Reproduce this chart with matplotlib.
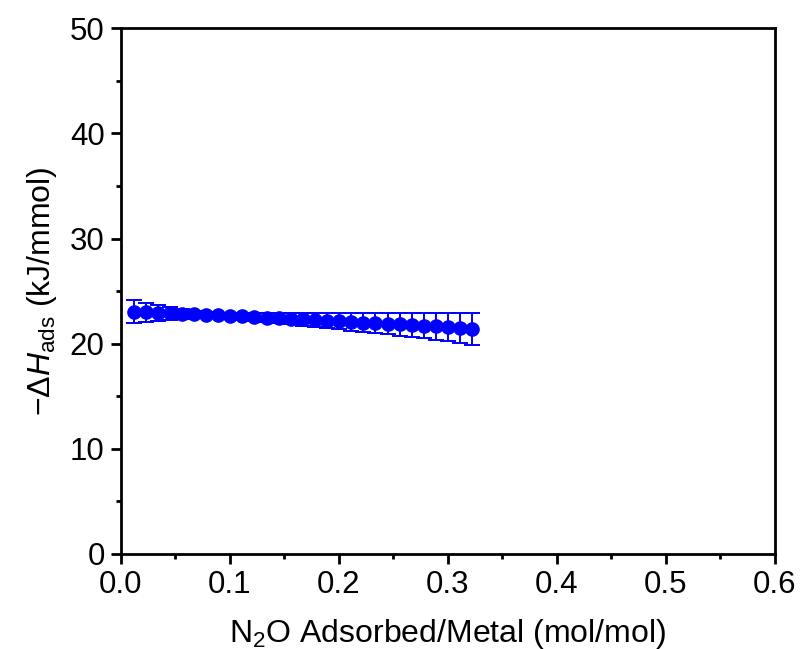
import numpy as np
import matplotlib

matplotlib.use('Agg')
from matplotlib import pyplot as plt
from matplotlib.ticker import MultipleLocator

plt.rcParams['font.family'] = ['Liberation Sans', 'DejaVu Sans']
plt.rcParams['mathtext.fontset'] = 'custom'
plt.rcParams['mathtext.rm'] = 'Liberation Sans'
plt.rcParams['mathtext.it'] = 'Liberation Sans:italic'
plt.rcParams['mathtext.bf'] = 'Liberation Sans:bold'

# N2O adsorbed per metal (mol/mol)
coverage = [0.012, 0.023, 0.034, 0.045, 0.056, 0.067, 0.078, 0.089, 0.100, 0.111,
            0.122, 0.134, 0.145, 0.156, 0.167, 0.178, 0.189, 0.200, 0.211, 0.222,
            0.233, 0.245, 0.256, 0.267, 0.278, 0.289, 0.300, 0.311, 0.322]
# -dH_ads (kJ/mmol)
dh_ads = [23.04, 22.98, 22.93, 22.88, 22.84, 22.80, 22.76, 22.71, 22.66, 22.60,
          22.54, 22.48, 22.42, 22.37, 22.31, 22.25, 22.19, 22.13, 22.07, 22.01,
          21.95, 21.89, 21.83, 21.77, 21.71, 21.64, 21.57, 21.50, 21.43]
dh_err = [1.07, 0.93, 0.78, 0.63, 0.48, 0.34, 0.22, 0.19, 0.24, 0.30,
          0.36, 0.42, 0.48, 0.53, 0.59, 0.65, 0.71, 0.77, 0.83, 0.89,
          0.95, 1.01, 1.07, 1.13, 1.19, 1.26, 1.33, 1.42, 1.52]

fig = plt.figure(figsize=(8.01, 6.49), dpi=100)
ax = fig.add_axes([0.1507, 0.1464, 0.8168, 0.81])

ax.errorbar(coverage, dh_ads, yerr=dh_err, fmt='o', color='#0000FF',
            ecolor='#0000FF', markersize=9.5, elinewidth=1.4, capsize=5.5,
            capthick=1.4)

ax.set_xlim(0, 0.6)
ax.set_ylim(0, 50)
ax.xaxis.set_major_locator(MultipleLocator(0.1))
ax.xaxis.set_minor_locator(MultipleLocator(0.05))
ax.yaxis.set_major_locator(MultipleLocator(10))
ax.yaxis.set_minor_locator(MultipleLocator(5))
ax.xaxis.set_major_formatter(plt.FormatStrFormatter('%.1f'))

for s in ax.spines.values():
    s.set_linewidth(2.0)
ax.tick_params(which='major', direction='out', length=7.5, width=2.0,
               labelsize=22.5, pad=4)
ax.tick_params(which='minor', direction='out', length=3.8, width=2.0)

ax.set_xlabel(r'N$_2$O Adsorbed/Metal (mol/mol)', fontsize=23, labelpad=12)
ax.set_ylabel(r'$-\mathit{\Delta H}_{\mathrm{ads}}$ (kJ/mmol)', fontsize=23, labelpad=8)

fig.savefig('out.png', dpi=100)
